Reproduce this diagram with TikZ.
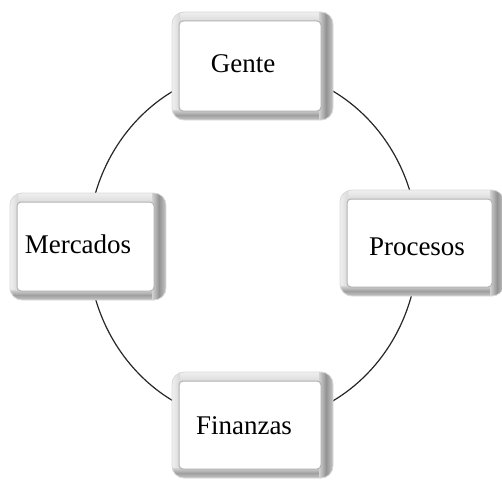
\documentclass[tikz,border=0pt]{standalone}
\usepackage{fontspec}
\setmainfont{Liberation Serif}
\newcommand\bevbox[8]{%
  \begin{scope}
    \clip[rounded corners=6pt] (#2,#3) rectangle (#4,#5);
    \fill[gray!18] (#2,#3) rectangle (#4,#5);
    \path[top color=gray!12, bottom color=gray!30] (#2,#3) rectangle (#4,#3+10);
    \path[left color=gray!12, right color=gray!30] (#2,#3) rectangle (#2+8,#5);
    \path[top color=gray!35, bottom color=gray!45, middle color=gray!75] (#2,#5-10) rectangle (#4,#5);
    \path[left color=gray!35, right color=gray!45, middle color=gray!85] (#4-14,#3) rectangle (#4,#5);
  \end{scope}
  \path[rounded corners=6pt, draw=gray!30, line width=0.4pt] (#2,#3) rectangle (#4,#5);
  \path[fill=white, draw=gray!60, line width=0.5pt, rounded corners=2pt]
    (#2+7,#3+9) rectangle (#4-12,#5-9);
  \node[lbl] (#1) at (#7,#8) {#6};
}
\begin{document}
\begin{tikzpicture}[x=0.5pt, y=-0.5pt,
  lbl/.style={anchor=base, inner sep=0pt, font=\fontsize{13.5}{16}\selectfont, text=black},
  ring/.style={draw=black!85, line width=0.6pt}]
\useasboundingbox (0,0) rectangle (502,481);
\coordinate (c) at (253,246);
\draw[ring] (c) ellipse [x radius=82.5pt, y radius=88.5pt];
\bevbox{gente}{172}{12}{333}{120}{Gente}{243}{73}
\bevbox{procesos}{340}{190}{504}{296}{Procesos}{417}{255}
\bevbox{mercados}{10}{193}{166}{300}{Mercados}{78}{253}
\bevbox{finanzas}{172}{372}{333}{478}{Finanzas}{244}{434}
\end{tikzpicture}
\end{document}
